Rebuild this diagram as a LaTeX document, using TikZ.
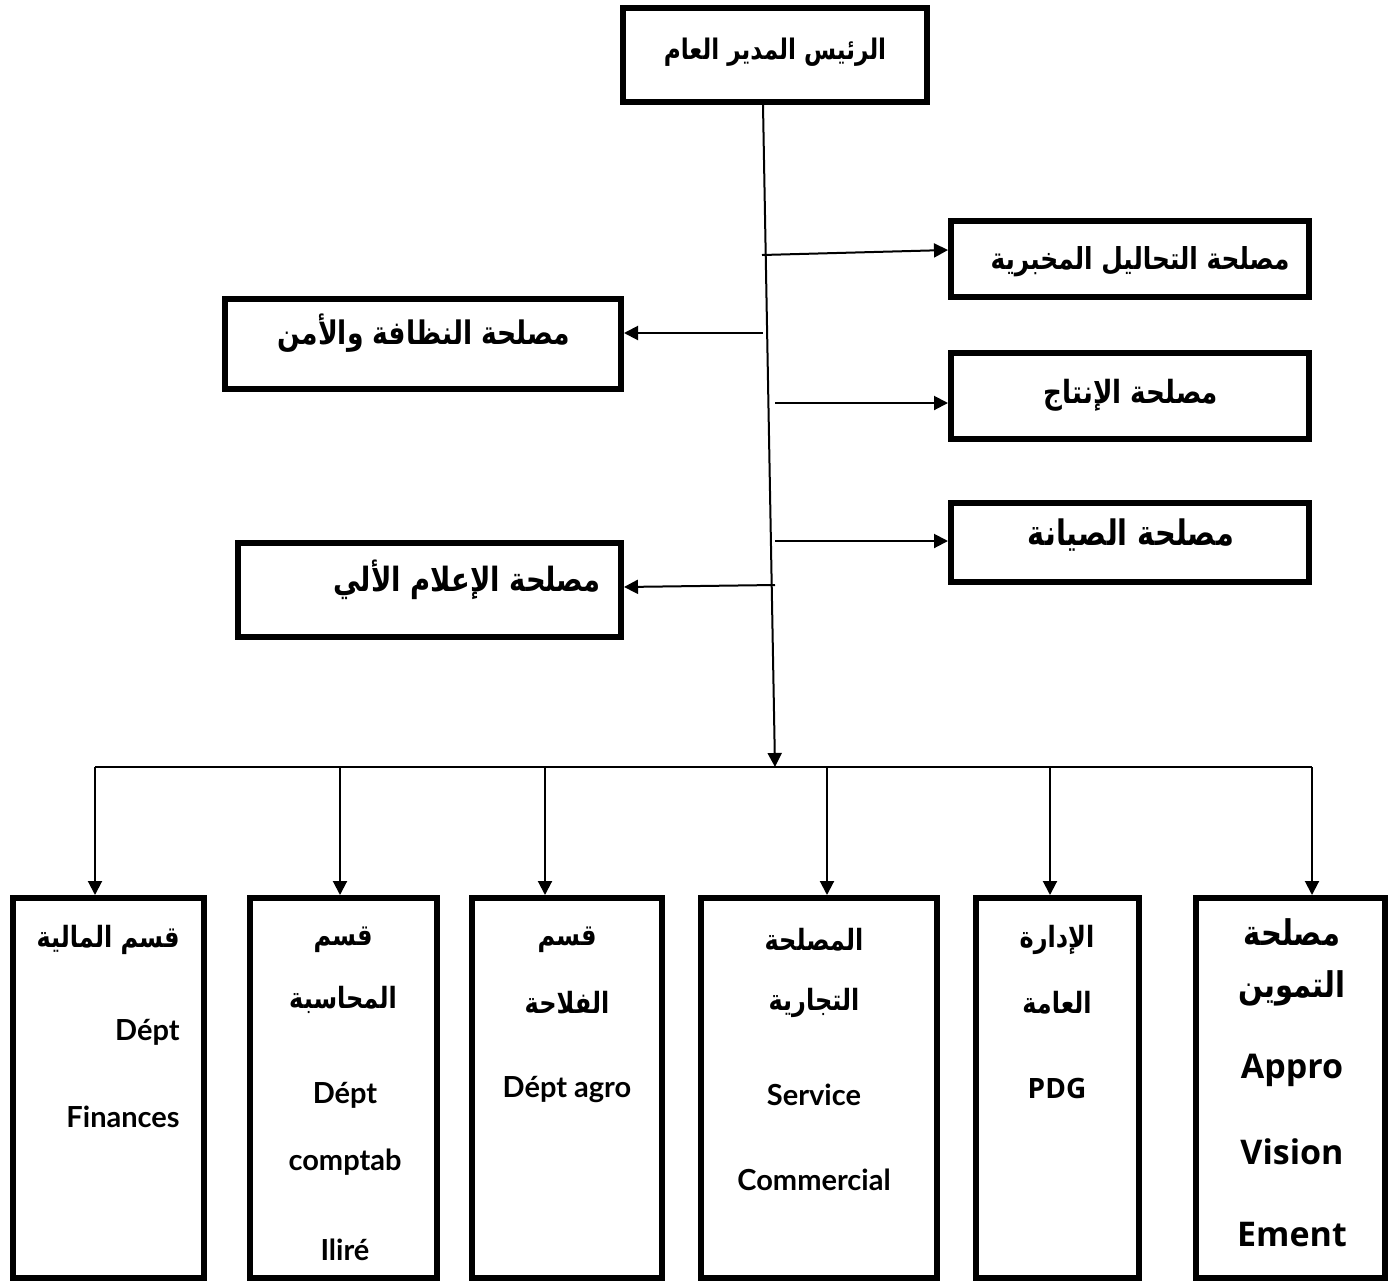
\documentclass[tikz,border=0pt]{standalone}
\usepackage{fontspec}
\usepackage{graphicx}
\TeXXeTstate=1
\newfontfamily\arabicfont[Script=Arabic]{DejaVu Sans}
\newfontfamily\latinA{Lato}
\newfontfamily\latinB{Open Sans}
\usetikzlibrary{arrows.meta,calc}
% bold Arabic line, slightly stretched vertically
\newcommand\arb[1]{\scalebox{1}[1.22]{\arabicfont\bfseries\beginR #1\endR}}
\begin{document}
\begin{tikzpicture}[x=0.5pt,y=-0.5pt,
  unit/.style={draw, line width=3pt, rectangle, inner sep=0pt},
  link/.style={line width=1pt},
  arr/.style={line width=1pt, -{Triangle[length=7pt,width=7pt]}},
  lbl/.style={inner sep=0pt, text=black},
  fr/.style={font=\latinA\bfseries\fontsize{14.5}{17}\selectfont}]
\useasboundingbox (0,0) rectangle (1399,1281);

% head of the organisation
\node[unit, minimum width=152pt, minimum height=47pt] (top) at (775,55) {};
\node[lbl, font=\fontsize{11.6}{14}\selectfont] (ttop) at (775,52) {\arb{الرئيس المدير العام}};

% services attached to the head
\node[unit, minimum width=179pt, minimum height=38pt] (lab) at (1130,259) {};
\node[lbl, font=\fontsize{12.4}{15}\selectfont] (tlab) at (1140,262) {\arb{مصلحة التحاليل المخبرية}};
\node[unit, minimum width=198pt, minimum height=45pt] (hyg) at (423,344) {};
\node[lbl, font=\fontsize{13.3}{16}\selectfont] (thyg) at (424,333) {\arb{مصلحة النظافة والأمن}};
\node[unit, minimum width=179pt, minimum height=43pt] (prod) at (1130,396) {};
\node[lbl, font=\fontsize{13.1}{16}\selectfont] (tprod) at (1131,395) {\arb{مصلحة الإنتاج}};
\node[unit, minimum width=179pt, minimum height=39.5pt] (maint) at (1130,542.5) {};
\node[lbl, font=\fontsize{14.4}{17}\selectfont] (tmaint) at (1131,535) {\arb{مصلحة الصيانة}};
\node[unit, minimum width=191.5pt, minimum height=47pt] (it) at (429.5,590) {};
\node[lbl, font=\fontsize{13.7}{16}\selectfont] (tit) at (467,580) {\arb{مصلحة الإعلام الألي}};

% departments
\node[unit, minimum width=95.5pt, minimum height=190pt] (b1) at (108.5,1088) {};
\node[unit, minimum width=93.5pt, minimum height=190pt] (b2) at (343.5,1088) {};
\node[unit, minimum width=95pt, minimum height=190pt] (b3) at (567,1088) {};
\node[unit, minimum width=118pt, minimum height=190pt] (b4) at (819,1088) {};
\node[unit, minimum width=81.5pt, minimum height=190pt] (b5) at (1057.5,1088) {};
\node[unit, minimum width=94.5pt, minimum height=190pt] (b6) at (1290.5,1088) {};

\begin{scope}[every node/.style={lbl, font=\fontsize{12}{15}\selectfont}]
\node[anchor=east] (b1a) at (180,940) {\arb{قسم المالية}};
\node[anchor=east, fr] (b1b) at (180,1032) {Dépt};
\node[anchor=east, fr] (b1c) at (180,1117) {Finances};

\node (b2a) at (343,940) {\arb{قسم}};
\node (b2b) at (343,1000) {\arb{المحاسبة}};
\node[fr] (b2c) at (345,1095) {Dépt};
\node[fr] (b2d) at (345,1162) {comptab};
\node[fr] (b2e) at (345,1250) {Iliré};

\node (b3a) at (567,940) {\arb{قسم}};
\node (b3b) at (567,1003) {\arb{الفلاحة}};
\node[fr] (b3c) at (567,1090) {Dépt agro};

\node (b4a) at (814,940) {\arb{المصلحة}};
\node (b4b) at (814,1003) {\arb{التجارية}};
\node[fr] (b4c) at (814,1095) {Service};
\node[fr] (b4d) at (814,1180) {Commercial};

\node (b5a) at (1057,940) {\arb{الإدارة}};
\node (b5b) at (1057,1003) {\arb{العامة}};
\node[font=\latinB\bfseries\fontsize{14}{17}\selectfont] (b5c) at (1057,1088) {PDG};

\node[font=\fontsize{14.5}{17}\selectfont] (b6a) at (1292,932) {\arb{مصلحة}};
\node[font=\fontsize{14.5}{17}\selectfont] (b6b) at (1292,988) {\arb{التموين}};
\node[font=\latinB\bfseries\fontsize{17}{20}\selectfont] (b6c) at (1292,1070) {Appro};
\node[font=\latinB\bfseries\fontsize{17}{20}\selectfont] (b6d) at (1292,1152) {Vision};
\node[font=\latinB\bfseries\fontsize{17}{20}\selectfont] (b6e) at (1292,1235) {Ement};
\end{scope}

% main trunk and distribution bus
\coordinate (t0) at (763,105);
\coordinate (hub) at (775,767);
\draw[arr] (t0) -- (hub);
\coordinate (busL) at (95,767);
\coordinate (busR) at (1312,767);
\draw[link] (busL) -- (busR);

% branches from the trunk
\coordinate (c1) at (762,255);
\coordinate (c2) at (763,333);
\coordinate (c3) at (775,403);
\coordinate (c4) at (775,541);
\coordinate (c5) at (775,585);
\draw[arr] (c1) -- ($(lab.west)+(0,-9)$);
\draw[arr] (c2) -- (c2 -| hyg.east);
\draw[arr] (c3) -- (c3 -| prod.west);
\draw[arr] (c4) -- (c4 -| maint.west);
\draw[arr] (c5) -- ($(it.east)+(0,-3)$);

% drops to the departments
\foreach \x/\b in {95/b1,340/b2,545/b3,827/b4,1050/b5,1312/b6}{
  \coordinate (d\b) at (\x,767);
  \draw[arr] (d\b) -- (d\b |- \b.north);
}
\end{tikzpicture}
\end{document}
